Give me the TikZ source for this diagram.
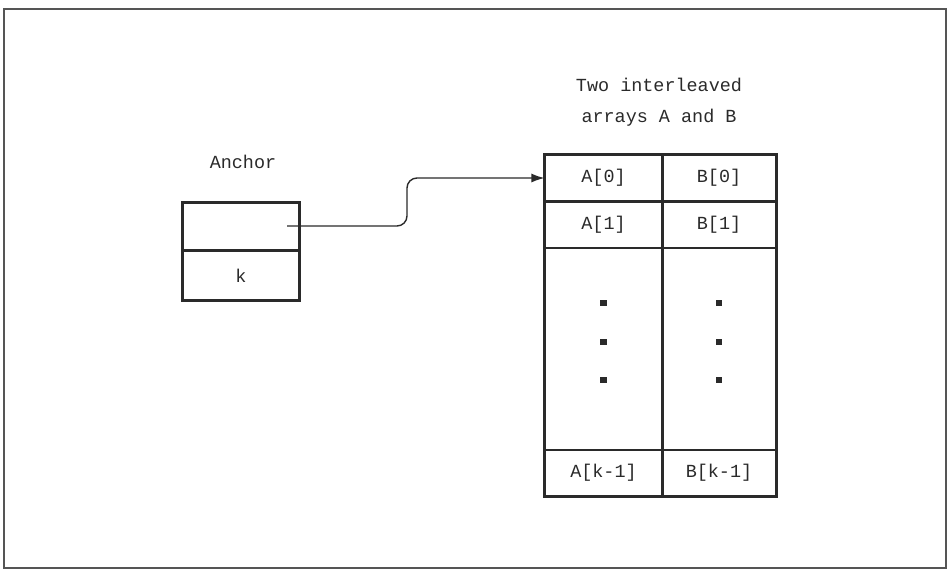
\documentclass[tikz,border=0pt]{standalone}
\usepackage{fontspec}
\setmonofont{Liberation Mono}
\usepackage{xcolor}
\definecolor{ink}{HTML}{2A2A2A}
\definecolor{frameedge}{HTML}{555555}
\usepackage{tikz}
\usetikzlibrary{arrows.meta, positioning, calc}

\begin{document}
\begin{tikzpicture}[
  x=0.02cm, y=-0.02cm,
  font=\fontsize{10.5}{12.5}\selectfont\ttfamily,
  cell/.style={
    draw=ink, line width=0.6pt, inner sep=0pt, text=ink,
    minimum width=2.34cm, minimum height=0.92cm
  },
  cellb/.style={cell, minimum width=2.28cm},
  dot/.style={fill=ink, inner sep=0pt, minimum size=3.5pt},
  label/.style={text=ink, align=center}
]
  \useasboundingbox (0,0) rectangle (951,576);
  \draw[frameedge, line width=0.9pt] (4,9) rectangle (946,568);

  % anchor record
  \node[label] (anchortitle) at (243,162) {Anchor};
  \node[cell, minimum width=2.32cm, minimum height=0.94cm] (ptrcell) at (241,226.5) {};
  \node[cell, minimum width=2.32cm, minimum height=0.98cm] (kcell) [below=0pt of ptrcell] {k};
  \draw[ink, line width=1.6pt] (ptrcell.north west) rectangle (kcell.south east);
  \coordinate (ptr) at (287,226);

  % interleaved arrays
  \node[label] (title) at (659,102) {Two interleaved\\[5pt]arrays A and B};
  \node[cell] (a0) at (603.5,178) {A[0]};
  \node[cellb] (b0) at (719,178) {B[0]};
  \node[cell, minimum height=0.9cm] (a1) [below=0pt of a0] {A[1]};
  \node[cellb, minimum height=0.9cm] (b1) [below=0pt of b0] {B[1]};
  \node[cell, minimum height=4.02cm] (am) [below=0pt of a1] {};
  \node[cellb, minimum height=4.02cm] (bm) [below=0pt of b1] {};
  \node[cell] (ak) [below=0pt of am] {A[k-1]};
  \node[cellb] (bk) [below=0pt of bm] {B[k-1]};
  \draw[ink, line width=1.6pt] (a0.north west) rectangle (bk.south east);
  \draw[ink, line width=1.4pt] (a0.north east) -- (ak.south east);

  \foreach \y [count=\i] in {303,342,380} {
    \node[dot] (da\i) at (am.center |- 0,\y) {};
    \node[dot] (db\i) at (bm.center |- 0,\y) {};
  }

  \draw[ink, line width=0.8pt, rounded corners=0.2cm, -{Latex[length=2.6mm, width=1.8mm]}]
    (ptr) -- (407,226) -- (407,178) -- (a0.west);
\end{tikzpicture}
\end{document}
